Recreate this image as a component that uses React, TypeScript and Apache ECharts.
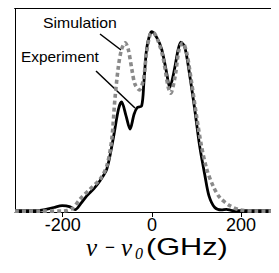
import React, { useEffect, useRef } from "react";
import * as echarts from "echarts";

const expX = [-307, -260, -240, -220, -201, -185, -172, -160, -146, -130, -116, -101, -87, -75, -68, -58, -49, -40, -33, -23, -18, -12, -5, 0, 11, 22, 33, 40, 49, 59, 65, 74, 85, 96, 107, 119, 128, 141, 156, 167, 180, 200, 285];
const expY = [0.003, 0.003, 0.008, 0.02, 0.03, 0.025, 0.008, 0.04, 0.085, 0.125, 0.17, 0.235, 0.4, 0.567, 0.607, 0.53, 0.456, 0.539, 0.576, 0.585, 0.715, 0.9, 0.98, 0.998, 0.965, 0.9, 0.77, 0.687, 0.77, 0.9, 0.94, 0.91, 0.752, 0.567, 0.363, 0.196, 0.085, 0.02, 0.007, 0.01, 0.003, 0.002, 0.002];

const simX = [-307, -250, -200, -190, -178, -161, -139, -116, -101, -90, -83, -75, -68, -60, -53, -45, -38, -28, -19, -12, -4, 3, 14, 25, 36, 42, 52, 61, 69, 78, 89, 100, 111, 123, 137, 152, 175, 197, 230, 285];
const simY = [0, 0, 0, 0.003, 0.015, 0.067, 0.122, 0.178, 0.252, 0.4, 0.622, 0.807, 0.9, 0.937, 0.9, 0.789, 0.706, 0.674, 0.733, 0.881, 0.983, 0.993, 0.946, 0.854, 0.696, 0.656, 0.75, 0.9, 0.937, 0.881, 0.715, 0.53, 0.363, 0.233, 0.141, 0.076, 0.03, 0.007, 0, 0];

const tickValues = [-200, 0, 200];
const xMin = -307;
const xMax = 285;
const yMin = -0.005;
const yMax = 1.13;

export default function App() {
  const ref = useRef<HTMLDivElement>(null);
  useEffect(() => {
    if (!ref.current) return;
    const chart = echarts.init(ref.current, undefined, { renderer: "svg" });
    const sans = "Liberation Sans";
    const serif = "Liberation Serif";
    chart.setOption({
      animation: false,
      grid: { left: 15, right: 0, top: 8, bottom: 61 },
      xAxis: [
        {
          type: "value",
          min: xMin,
          max: xMax,
          position: "bottom",
          splitLine: { show: false },
          axisLine: { show: true, onZero: false, lineStyle: { color: "#000", width: 1 } },
          axisTick: { show: true, customValues: tickValues, length: 5, lineStyle: { color: "#000", width: 1 } },
          axisLabel: {
            show: true,
            customValues: tickValues,
            fontSize: 18,
            fontFamily: sans,
            color: "#000",
            margin: 4,
          },
        },
        {
          type: "value",
          min: xMin,
          max: xMax,
          position: "top",
          splitLine: { show: false },
          axisLine: { show: true, onZero: false, lineStyle: { color: "#000", width: 2 } },
          axisTick: { show: false },
          axisLabel: { show: false },
        },
      ],
      yAxis: {
        type: "value",
        min: yMin,
        max: yMax,
        splitLine: { show: false },
        axisLine: { show: true, onZero: false, lineStyle: { color: "#000", width: 1 } },
        axisTick: { show: false },
        axisLabel: { show: false },
      },
      series: [
        {
          name: "Experiment",
          type: "line",
          data: expX.map((x, i) => [x, expY[i]]),
          showSymbol: false,
          smooth: 0.3,
          clip: false,
          lineStyle: { color: "#000", width: 2.8 },
        },
        {
          name: "Simulation",
          type: "line",
          data: simX.map((x, i) => [x, simY[i]]),
          showSymbol: false,
          smooth: 0.3,
          clip: false,
          lineStyle: { color: "#8a8a8a", width: 3.6, type: [4, 3], cap: "butt" },
        },
      ],
      graphic: [
        { type: "text", x: 43, y: 23, scaleX: 1.13, style: { text: "Simulation", fontSize: 14, fontFamily: sans, fill: "#000", verticalAlign: "middle" } },
        { type: "text", x: 21, y: 57, scaleX: 1.1, style: { text: "Experiment", fontSize: 14, fontFamily: sans, fill: "#000", verticalAlign: "middle" } },
        { type: "line", shape: { x1: 100, y1: 34, x2: 121, y2: 50 }, style: { stroke: "#000", lineWidth: 1.5 } },
        { type: "line", shape: { x1: 96, y1: 71, x2: 135, y2: 108 }, style: { stroke: "#000", lineWidth: 1.5 } },
        { type: "text", x: 86, y: 247, style: { text: "ν", fontSize: 25, fontStyle: "italic", fontFamily: serif, fill: "#000", verticalAlign: "middle" } },
        { type: "text", x: 105, y: 247, style: { text: "−", fontSize: 17, fontFamily: sans, fill: "#000", verticalAlign: "middle" } },
        { type: "text", x: 121, y: 247, style: { text: "ν", fontSize: 25, fontStyle: "italic", fontFamily: serif, fill: "#000", verticalAlign: "middle" } },
        { type: "text", x: 135, y: 253, style: { text: "0", fontSize: 16, fontStyle: "italic", fontFamily: serif, fill: "#000", verticalAlign: "middle" } },
        { type: "text", x: 146, y: 247, scaleX: 1.28, style: { text: "(GHz)", fontSize: 24, fontFamily: sans, fill: "#000", verticalAlign: "middle" } },
      ],
    });
    return () => chart.dispose();
  }, []);
  return <div ref={ref} style={{ width: 279, height: 273, margin: -8 }} />;
}
